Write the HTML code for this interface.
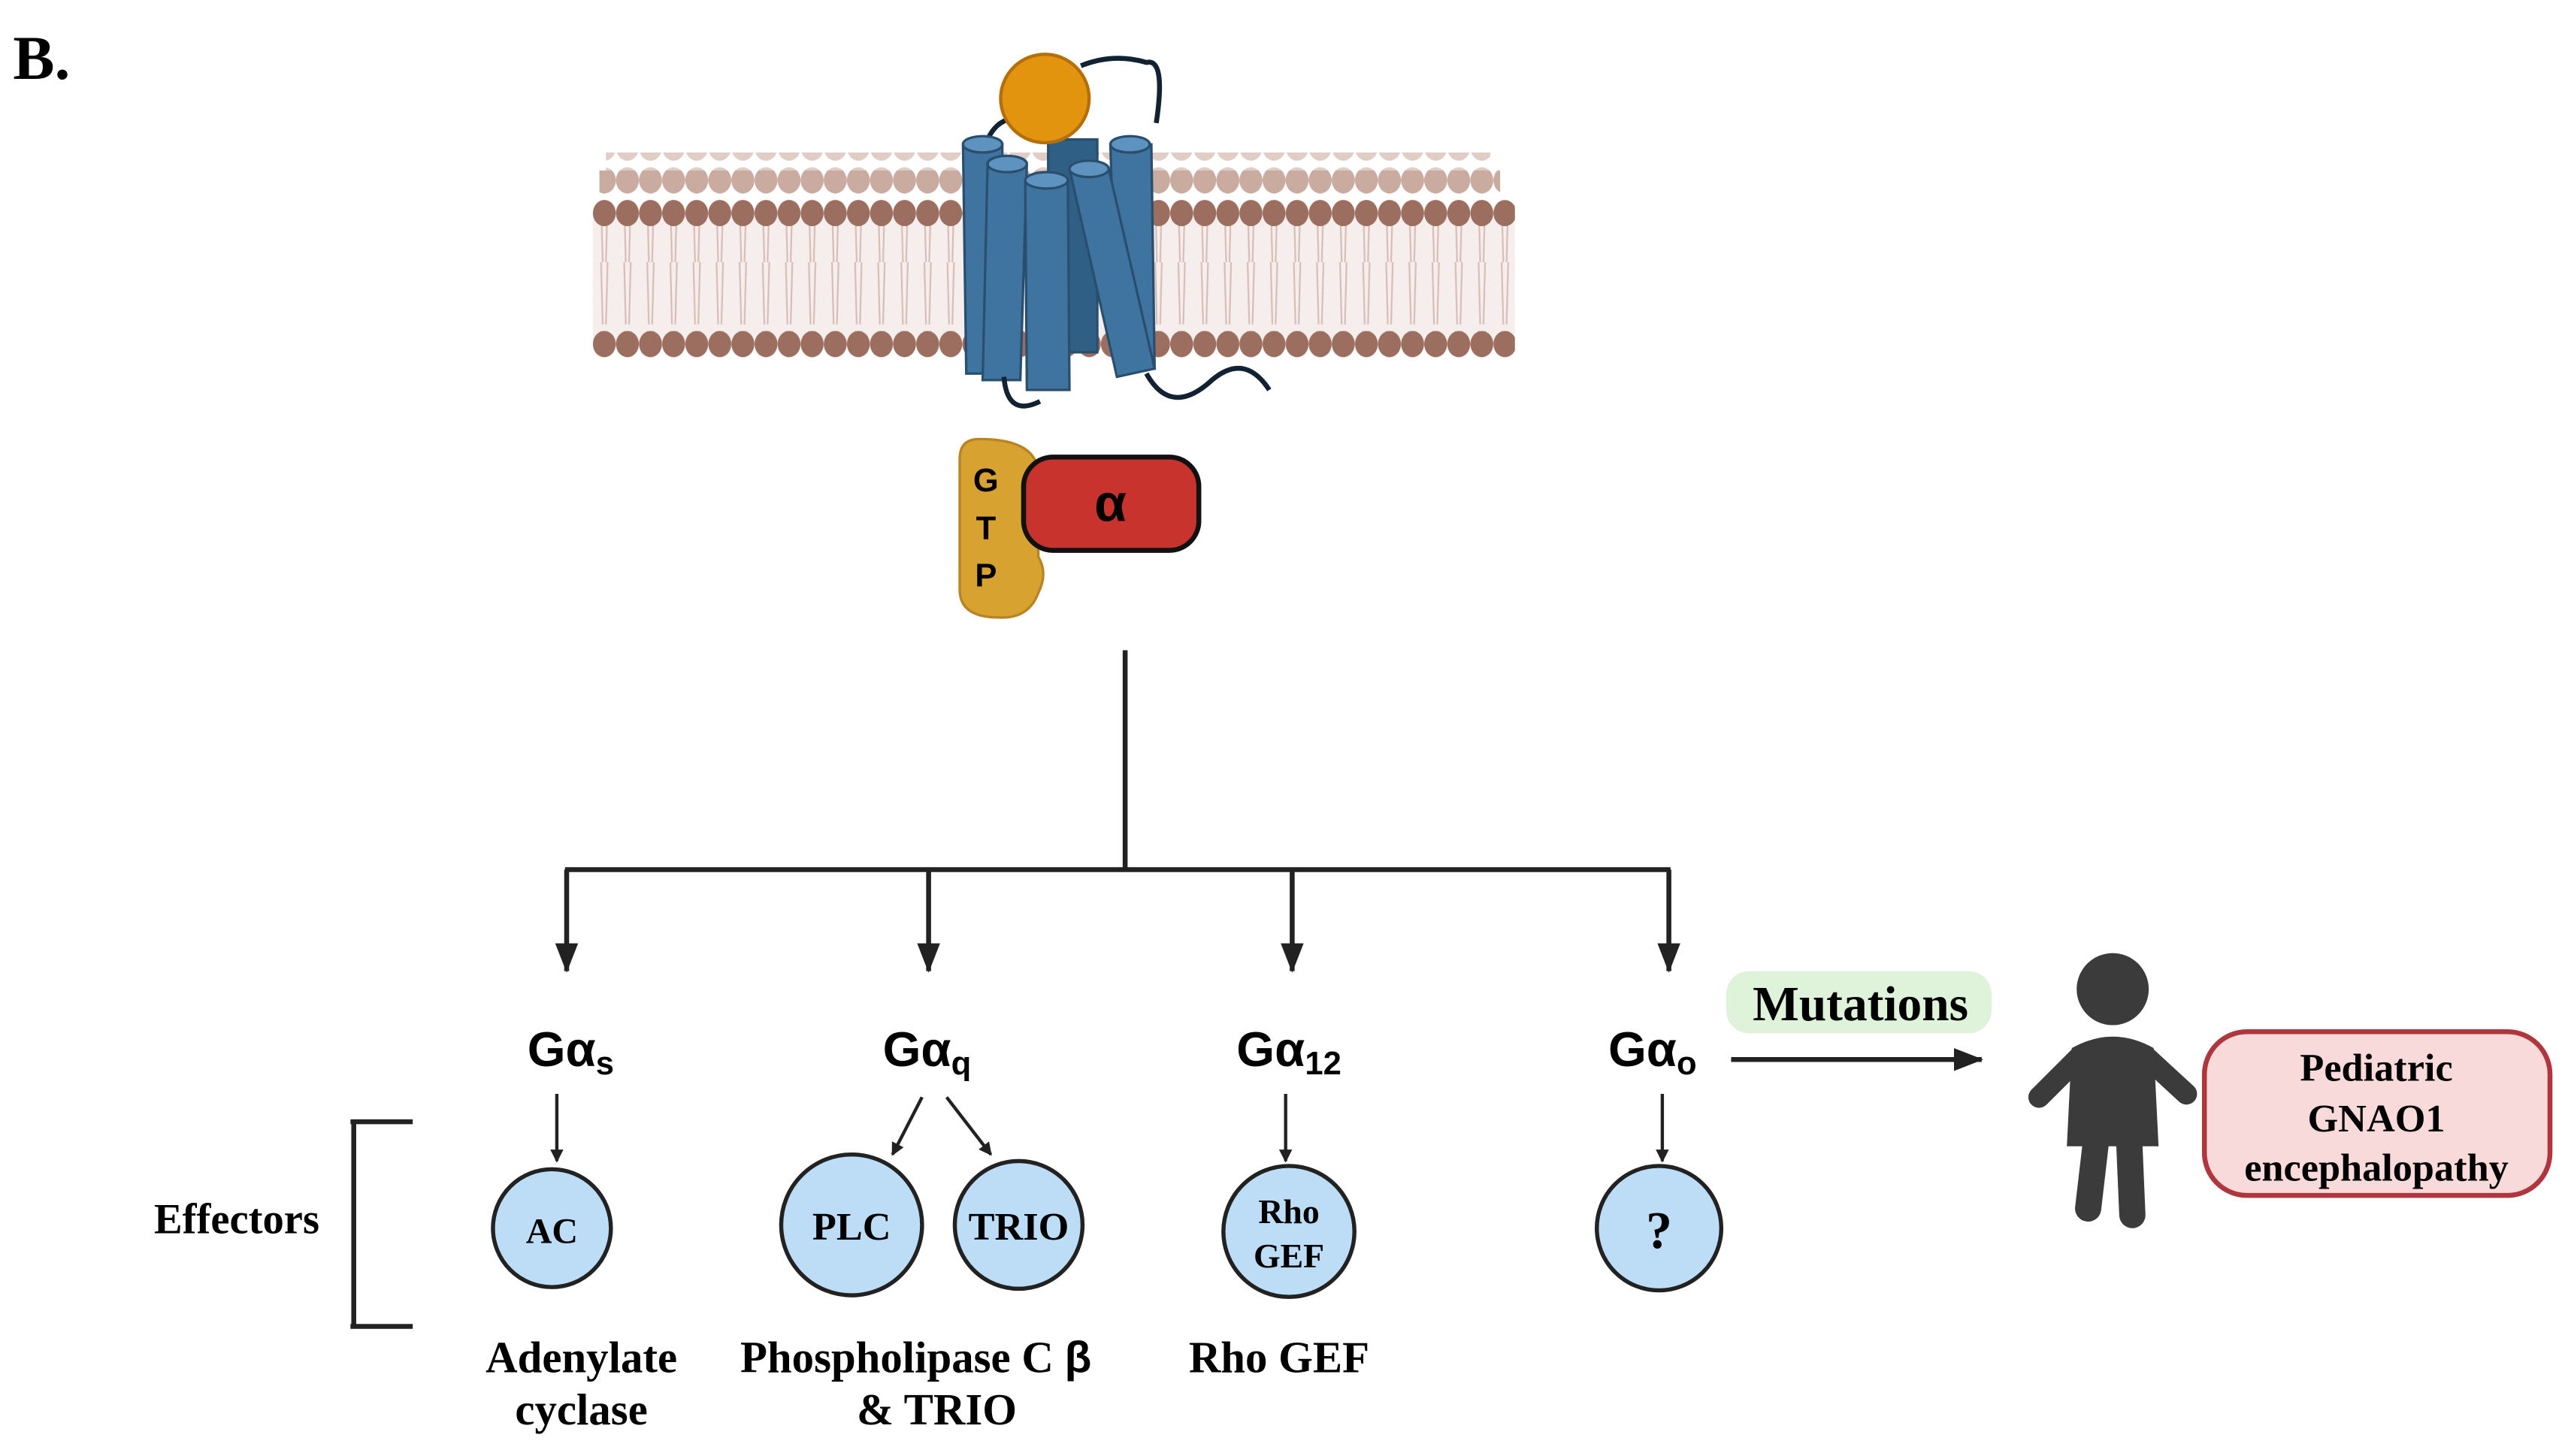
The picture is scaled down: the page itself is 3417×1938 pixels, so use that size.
<!DOCTYPE html>
<html><head><meta charset="utf-8"><style>html,body{margin:0;padding:0;background:#fff}svg{display:block}</style></head>
<body>
<svg width="3417" height="1938" viewBox="0 0 1568 889" xmlns="http://www.w3.org/2000/svg" font-family="'Liberation Serif',serif" font-weight="bold">
<defs>
<pattern id="hb" x="362" y="0" width="14.1" height="20" patternUnits="userSpaceOnUse"><ellipse cx="7" cy="10" rx="7" ry="8" fill="#c9aba0"/></pattern>
<pattern id="hf" x="362" y="0" width="14.1" height="20" patternUnits="userSpaceOnUse"><ellipse cx="7" cy="10" rx="7" ry="8" fill="#9b6e60"/></pattern>
<pattern id="tl" x="362" y="0" width="14.1" height="80" patternUnits="userSpaceOnUse"><path d="M5 0 L6 38 M9 0 L8 38 M5 42 L6 80 M9 42 L8 80" stroke="#d7bdb6" stroke-width="1"/></pattern>
<marker id="ah" markerWidth="18" markerHeight="14" refX="17" refY="7" orient="auto" markerUnits="userSpaceOnUse"><path d="M0 0 L18 7 L0 14 z" fill="#222"/></marker>
<marker id="ahs" markerWidth="8" markerHeight="8" refX="7" refY="4" orient="auto" markerUnits="userSpaceOnUse"><path d="M0 0 L8 4 L0 8 z" fill="#222"/></marker>
</defs>
<text x="8" y="48" font-size="38">B.</text>
<!-- membrane -->
<rect x="370" y="93" width="540" height="20" fill="url(#hb)" opacity="0.6"/>
<rect x="366" y="104" width="550" height="20" fill="url(#hb)"/>
<rect x="362" y="130" width="563" height="80" fill="#f5eeec"/>
<rect x="362" y="130" width="563" height="80" fill="url(#tl)"/>
<rect x="362" y="118" width="563" height="20" fill="url(#hf)"/>
<rect x="362" y="199" width="563" height="20" fill="url(#hf)"/>
<!-- receptor -->
<path d="M600 95 Q605 70 625 72 M706 75 Q712 35 700 38 Q680 32 660 40" stroke="#123" stroke-width="3" fill="none"/>
<g stroke="#2a4f6e" stroke-width="1.5" fill="#3f74a0">
<path d="M640 85 L670 85 L670 215 L640 215 z" fill="#2f5f85"/>
<path d="M588 88 L612 88 L612 228 L590 228 z"/><ellipse cx="600" cy="88" rx="12" ry="5" fill="#5f93bf"/>
<path d="M678 88 L703 88 L705 225 L682 225 z"/><ellipse cx="690" cy="88" rx="12" ry="5" fill="#5f93bf"/>
<path d="M603 100 L627 100 L623 232 L600 232 z"/><ellipse cx="615" cy="100" rx="12" ry="5" fill="#5f93bf"/>
<path d="M653 103 L677 103 L705 225 L682 230 z"/><ellipse cx="665" cy="103" rx="12" ry="5" fill="#5f93bf"/>
<path d="M626 110 L652 110 L653 238 L627 238 z"/><ellipse cx="639" cy="110" rx="13" ry="5" fill="#5f93bf"/>
</g>
<path d="M613 230 Q615 255 635 245 M700 228 Q715 255 740 232 Q760 215 775 238" stroke="#123" stroke-width="3" fill="none"/>
<circle cx="638" cy="60" r="27" fill="#e3940e" stroke="#b46e0a" stroke-width="2"/>
<!-- G protein -->
<path d="M598 268 Q634 268 634 290 L634 340 Q640 350 634 362 Q628 378 610 377 Q586 377 586 360 L586 280 Q586 268 598 268 z" fill="#d8a230" stroke="#b88320" stroke-width="1.5"/>
<rect x="625" y="279" width="107" height="57" rx="18" fill="#c8332e" stroke="#111" stroke-width="3"/>
<text x="678" y="318" font-family="'Liberation Sans',sans-serif" font-size="32" text-anchor="middle">α</text>
<g font-family="'Liberation Sans',sans-serif" font-size="20" text-anchor="middle"><text x="602" y="300">G</text><text x="602" y="329">T</text><text x="602" y="358">P</text></g>
<!-- tree -->
<g stroke="#222" stroke-width="3" fill="none">
<path d="M687 397 L687 530 M345 531 L1020 531"/>
<path d="M346 531 L346 593" marker-end="url(#ah)"/>
<path d="M567 531 L567 593" marker-end="url(#ah)"/>
<path d="M789 531 L789 593" marker-end="url(#ah)"/>
<path d="M1019 531 L1019 593" marker-end="url(#ah)"/>
<path d="M1057 647 L1210 647" marker-end="url(#ah)"/>
<path d="M216 685 L216 810 M214 685 L252 685 M214 810 L252 810"/>
</g>
<g stroke="#222" stroke-width="2" fill="none">
<path d="M340 668 L340 709" marker-end="url(#ahs)"/>
<path d="M785 668 L785 709" marker-end="url(#ahs)"/>
<path d="M1015 668 L1015 709" marker-end="url(#ahs)"/>
<path d="M563 670 L545 705" marker-end="url(#ahs)"/>
<path d="M578 670 L605 705" marker-end="url(#ahs)"/>
</g>
<g font-family="'Liberation Sans',sans-serif" font-size="30">
<text x="322" y="651">Gα<tspan font-size="20" dy="5">s</tspan></text>
<text x="539" y="651">Gα<tspan font-size="20" dy="5">q</tspan></text>
<text x="755" y="651">Gα<tspan font-size="20" dy="5">12</tspan></text>
<text x="982" y="651">Gα<tspan font-size="20" dy="5">o</tspan></text>
</g>
<g fill="#bddcf5" stroke="#222" stroke-width="2.5">
<circle cx="337" cy="750" r="36"/><circle cx="520" cy="748" r="43"/><circle cx="622" cy="748" r="39"/><circle cx="787" cy="752" r="40"/><circle cx="1013" cy="750" r="38"/>
</g>
<g text-anchor="middle">
<text x="337" y="759" font-size="22">AC</text>
<text x="520" y="757" font-size="24">PLC</text>
<text x="622" y="757" font-size="24">TRIO</text>
<text x="787" y="747" font-size="21">Rho</text><text x="787" y="774" font-size="21">GEF</text>
<text x="1013" y="762" font-size="32">?</text>
<text x="355" y="838" font-size="27">Adenylate</text>
<text x="355" y="870" font-size="27">cyclase</text>
<text x="572" y="870" font-size="27">&amp; TRIO</text>
<text x="781" y="838" font-size="27">Rho GEF</text>
</g>
<text x="452" y="838" font-size="27">Phospholipase  C <tspan font-family="'Liberation Sans',sans-serif">β</tspan></text>
<text x="94" y="753" font-size="26">Effectors</text>
<rect x="1054" y="593" width="162" height="38" rx="14" fill="#def3da"/>
<text x="1136" y="623" font-size="30" text-anchor="middle">Mutations</text>
<!-- person -->
<g fill="#3b3b3b" stroke="#3b3b3b">
<circle cx="1290" cy="604" r="22" stroke="none"/>
<path d="M1265 640 Q1290 626 1315 640 L1318 700 L1262 700 z" stroke="none"/>
<path d="M1270 645 L1245 670 M1310 645 L1335 668" stroke-width="13" stroke-linecap="round" fill="none"/>
<path d="M1280 695 L1275 738 M1300 695 L1302 742" stroke-width="16" stroke-linecap="round" fill="none"/>
</g>
<rect x="1346" y="630" width="211" height="100" rx="26" fill="#f8dadb" stroke="#b0363d" stroke-width="3"/>
<g text-anchor="middle" font-size="24">
<text x="1451" y="660">Pediatric</text><text x="1451" y="691">GNAO1</text><text x="1451" y="721">encephalopathy</text>
</g>
</svg>
</body></html>
